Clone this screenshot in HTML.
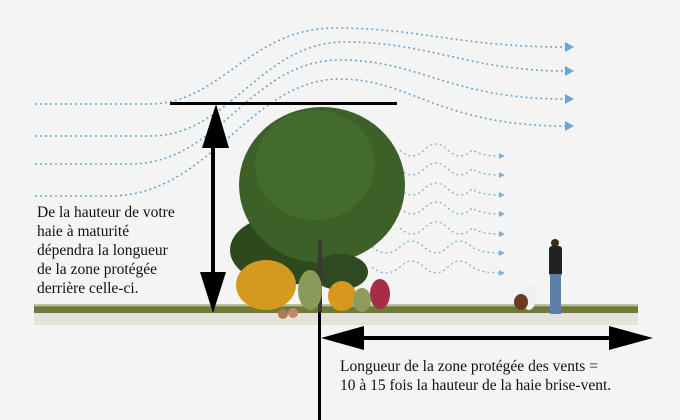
<!DOCTYPE html>
<html><head><meta charset="utf-8"><style>
body{margin:0;background:#f4f4f4}
svg{display:block}
text{font-family:"Liberation Serif",serif;font-size:15.5px;fill:#111}
</style></head><body>
<svg width="680" height="420" viewBox="0 0 680 420" xmlns="http://www.w3.org/2000/svg">
<rect width="680" height="420" fill="#f4f4f4"/>
<g fill="none" stroke="#6aa6d2" stroke-width="1.6" stroke-dasharray="2 3">
<path d="M35 104 L150 104 C220 104 250 28 335 28 C420 28 460 47 565 47"/>
<path d="M35 136 L150 136 C230 136 260 42 345 42 C430 42 470 71 565 71"/>
<path d="M35 164 L130 164 C220 164 250 60 340 60 C420 60 450 99 565 99"/>
<path d="M35 196 L110 196 C210 196 250 79 340 79 C410 79 440 126 565 126"/>
</g>
<g fill="#6aa6d2">
<path d="M565 42 L574 47 L565 52Z"/><path d="M565 66 L574 71 L565 76Z"/>
<path d="M565 94 L574 99 L565 104Z"/><path d="M565 121 L574 126 L565 131Z"/>
</g>
<g fill="none" stroke="#7db3da" stroke-width="1.3" stroke-dasharray="2 3">
<path d="M400 150 q12 12 24 0 t24 0 t24 0 q10 6 27 6"/>
<path d="M400 169 q12 12 24 0 t24 0 t24 0 q10 6 27 6"/>
<path d="M400 189 q12 12 24 0 t24 0 t24 0 q10 6 27 6"/>
<path d="M400 208 q12 12 24 0 t24 0 t24 0 q10 6 27 6"/>
<path d="M400 228 q12 12 24 0 t24 0 t24 0 q10 6 27 6"/>
<path d="M372 247 q14 12 28 0 q12 -12 24 0 t24 0 t24 0 q10 6 27 6"/>
<path d="M372 267 q14 12 28 0 q12 -12 24 0 t24 0 t24 0 q10 6 27 6"/>
</g>
<g fill="#7db3da">
<path d="M499 153 L505 156 L499 159Z"/><path d="M499 172 L505 175 L499 178Z"/>
<path d="M499 192 L505 195 L499 198Z"/><path d="M499 211 L505 214 L499 217Z"/>
<path d="M499 231 L505 234 L499 237Z"/><path d="M499 250 L505 253 L499 256Z"/>
<path d="M499 270 L505 273 L499 276Z"/>
</g>
<rect x="34" y="312" width="604" height="13" fill="#e4e2da"/>
<rect x="34" y="306" width="604" height="7" fill="#6f7a3a"/>
<rect x="34" y="304" width="604" height="3" fill="#93a063" opacity=".6"/>
<g>
<ellipse cx="285" cy="250" rx="55" ry="35" fill="#2e4a1c"/>
<ellipse cx="322" cy="185" rx="83" ry="78" fill="#3d5f28"/>
<ellipse cx="315" cy="165" rx="60" ry="55" fill="#46702f" opacity=".7"/>
<ellipse cx="340" cy="272" rx="28" ry="18" fill="#2f4a22"/>
<rect x="318" y="240" width="4" height="72" fill="#3a3a30"/>
<ellipse cx="266" cy="285" rx="30" ry="25" fill="#d39a1f"/>
<ellipse cx="310" cy="290" rx="12" ry="20" fill="#8a9a58"/>
<ellipse cx="342" cy="296" rx="14" ry="15" fill="#d6981e"/>
<ellipse cx="380" cy="294" rx="10" ry="15" fill="#a52d48"/>
<ellipse cx="362" cy="300" rx="9" ry="12" fill="#8d9b5c"/>
<circle cx="283" cy="314" r="5" fill="#b07a5a"/><circle cx="293" cy="313" r="5" fill="#c08a68"/>
</g>
<ellipse cx="529" cy="297" rx="7" ry="13" fill="#f0f0ee"/>
<ellipse cx="521" cy="302" rx="7" ry="8" fill="#6a3a22"/>
<circle cx="555" cy="243" r="4" fill="#3a2a1e"/>
<rect x="549" y="246" width="13" height="30" rx="3" fill="#222"/>
<rect x="550" y="274" width="11" height="40" fill="#5b7fa8"/>
<rect x="170" y="102" width="227" height="3" fill="#000"/>
<rect x="211" y="140" width="4" height="140" fill="#000"/>
<path d="M216 104 L229 148 L202 148Z" fill="#000"/>
<path d="M213 313 L226 272 L200 272Z" fill="#000"/>
<rect x="318" y="312" width="3" height="108" fill="#000"/>
<rect x="355" y="336" width="260" height="4" fill="#000"/>
<path d="M321 338 L364 326 L364 350Z" fill="#000"/>
<path d="M653 338 L609 326 L609 350Z" fill="#000"/>
<text x="37" y="217">De la hauteur de votre</text>
<text x="37" y="236">haie à maturité</text>
<text x="37" y="255">dépendra la longueur</text>
<text x="37" y="274">de la zone protégée</text>
<text x="37" y="293">derrière celle-ci.</text>
<text x="340" y="371">Longueur de la zone protégée des vents =</text>
<text x="340" y="390">10 à 15 fois la hauteur de la haie brise-vent.</text>
</svg>
</body></html>
